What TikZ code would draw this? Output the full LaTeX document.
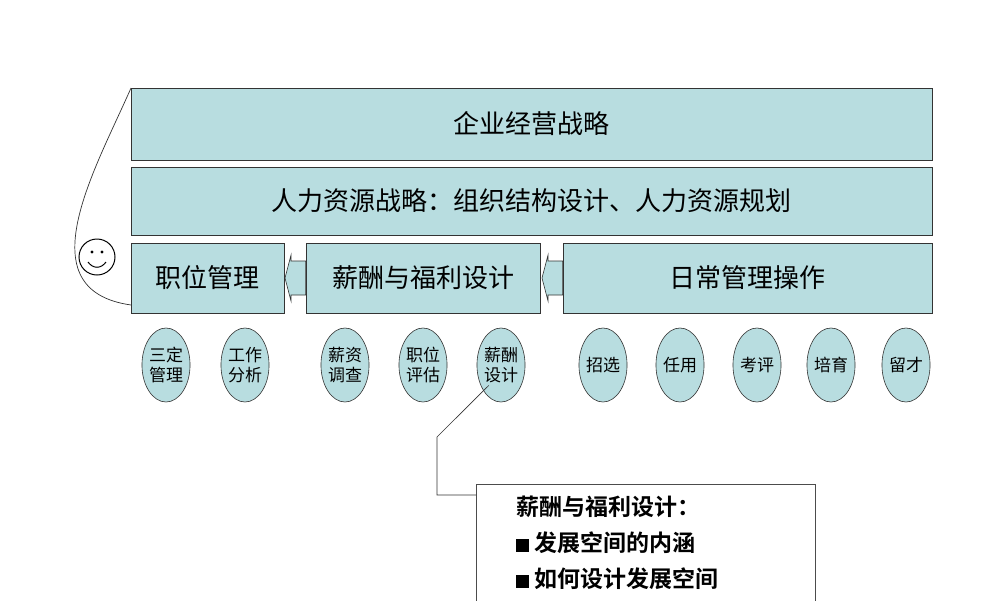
\documentclass[tikz,border=0pt]{standalone}
\usepackage{fontspec}
\usetikzlibrary{shapes.geometric}
\newfontfamily\cjk{Noto Sans CJK SC}
\newfontfamily\cjkb{Noto Sans CJK SC Bold}
\definecolor{boxfill}{HTML}{B8DDE0}
\begin{document}
\begin{tikzpicture}[x=1pt,y=-1pt,
  bar/.style={draw=black!80,line width=0.8pt,fill=boxfill,inner sep=0pt,font=\cjk\fontsize{26}{30}\selectfont},
  oval/.style={ellipse,draw=black!80,line width=0.6pt,fill=boxfill,minimum width=48pt,minimum height=74pt,inner sep=0pt,align=center,font=\cjk\fontsize{17}{20}\selectfont},
  harrow/.style={draw=black!80,line width=0.6pt,fill=boxfill}]
\useasboundingbox (0,0) rectangle (1000,600);
\draw[black!80,line width=0.7pt] (131,88) .. controls (95,170) and (25,290) .. (131,305);
\node[bar,minimum width=801pt,minimum height=72pt] (strat) at (531.5,124) {企业经营战略};
\node[bar,minimum width=801pt,minimum height=68pt] (hr) at (531.5,201) {人力资源战略：组织结构设计、人力资源规划};
\node[bar,minimum width=153pt,minimum height=70pt] (pos) at (207.5,278) {职位管理};
\node[bar,minimum width=234pt,minimum height=70pt] (pay) at (423,278) {薪酬与福利设计};
\node[bar,minimum width=369pt,minimum height=70pt] (daily) at (747.5,278) {日常管理操作};
\draw[harrow] (pay.west |- 0,261) -- (291,261) -- (291,255) -- (285,278) -- (291,301) -- (291,295) -- (pay.west |- 0,295) -- cycle;
\draw[harrow] (daily.west |- 0,261) -- (548,261) -- (548,255) -- (542,278) -- (548,301) -- (548,295) -- (daily.west |- 0,295) -- cycle;
\node[circle,draw,line width=1pt,minimum size=36pt,inner sep=0pt] (face) at (97,257) {};
\fill ([shift={(-5,-5)}]face.center) circle (1.7pt) ([shift={(5,-5)}]face.center) circle (1.7pt);
\draw[line width=1pt] ([shift={(-9,5)}]face.center) .. controls ([shift={(-4,12)}]face.center) and ([shift={(4,12)}]face.center) .. ([shift={(9,5)}]face.center);
\node[oval] (o1) at (166,365) {三定\\管理};
\node[oval] (o2) at (245,365) {工作\\分析};
\node[oval] (o3) at (345,365) {薪资\\调查};
\node[oval] (o4) at (423,365) {职位\\评估};
\node[oval] (o5) at (501,365) {薪酬\\设计};
\node[oval] (o6) at (603,365) {招选};
\node[oval] (o7) at (680,365) {任用};
\node[oval] (o8) at (757,365) {考评};
\node[oval] (o9) at (831,365) {培育};
\node[oval] (o10) at (906,365) {留才};
\draw[draw=black!70,line width=0.7pt] (476,484) -- (815,484) -- (815,605) (476,605) -- (476,484);
\node[anchor=north west,align=left,inner sep=0pt,font=\cjkb\fontsize{23}{36}\selectfont] (note) at (516,496) {薪酬与福利设计：\\\rule{13pt}{13pt}\ 发展空间的内涵\\\rule{13pt}{13pt}\ 如何设计发展空间};
\coordinate (bend) at (437,437);
\draw[black!80,line width=0.6pt] (o5.south west) ++(5,-6) -- (bend) -- (437,495) -- (476,495);
\end{tikzpicture}
\end{document}
